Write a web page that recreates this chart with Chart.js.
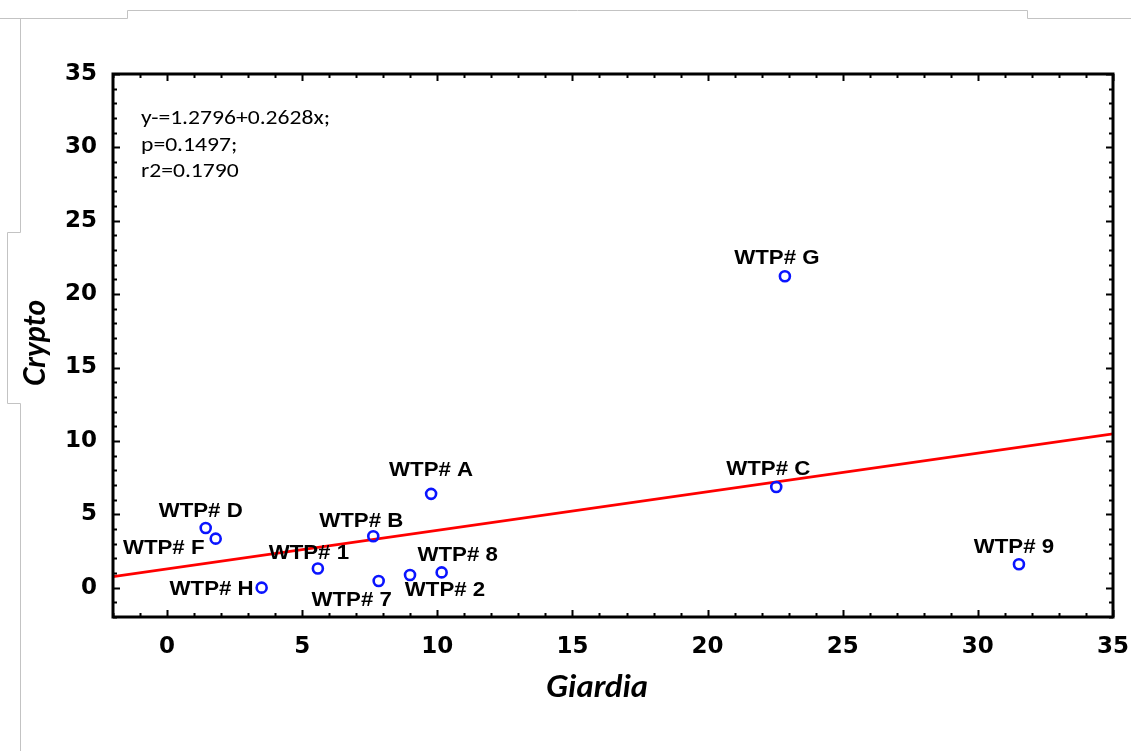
<!DOCTYPE html>
<html>
<head>
<meta charset="utf-8">
<script src="https://cdn.jsdelivr.net/npm/chart.js@4.4.1/dist/chart.umd.min.js"></script>
<style>
  html, body { margin: 0; padding: 0; background: #ffffff; }
  #wrap { position: relative; width: 1131px; height: 751px; }
  canvas { display: block; }
</style>
</head>
<body>
<div id="wrap"><canvas id="c" width="1131" height="751"></canvas></div>
<script>
// ---- data ----
const siteLabels = ['WTP# G', 'WTP# A', 'WTP# C', 'WTP# 9', 'WTP# D', 'WTP# F', 'WTP# B', 'WTP# 1', 'WTP# H', 'WTP# 7', 'WTP# 2', 'WTP# 8'];
const giardiaValues = [22.86, 9.77, 22.54, 31.52, 1.43, 1.80, 7.63, 5.58, 3.50, 7.83, 8.99, 10.16];
const cryptoValues  = [21.22, 6.39, 6.86, 1.59, 4.06, 3.34, 3.50, 1.30, 0.00, 0.45, 0.86, 1.04];
const fitLineX = [-2, 35];
const fitLineY = [0.75, 10.48];
const xTickValues = [0, 5, 10, 15, 20, 25, 30, 35];
const yTickValues = [0, 5, 10, 15, 20, 25, 30, 35];
const axisMin = -2;
const axisMax = 35;
const xTitle = 'Giardia';
const yTitle = 'Crypto';
const annotationLines = ['y-=1.2796+0.2628x;', 'p=0.1497;', 'r2=0.1790'];

// ---- label placement (pixel offsets from each point), styling only ----
const labelOffsets = [[-8, -18], [0, -24], [-8, -18], [-5, -17], [-5, -17], [-52, 10], [-12, -15], [-9, -15], [-50, 2], [-27, 19], [35, 15], [16, -17]];

const points = giardiaValues.map((x, i) => ({ x: x, y: cryptoValues[i] }));
const fitPoints = fitLineX.map((x, i) => ({ x: x, y: fitLineY[i] }));

function stretchedText(ctx, text, x, y, sx) {
  ctx.save();
  ctx.translate(x, y);
  ctx.scale(sx, 1);
  ctx.fillText(text, 0, 0);
  ctx.restore();
}

const decorPlugin = {
  id: 'decor',
  beforeDraw(chart) {
    const ctx = chart.ctx;
    ctx.save();
    ctx.fillStyle = '#ffffff';
    ctx.fillRect(0, 0, chart.width, chart.height);
    // light grey page outline
    ctx.strokeStyle = '#c3c3c3';
    ctx.lineWidth = 1;
    ctx.beginPath();
    ctx.moveTo(0, 18.5); ctx.lineTo(127.5, 18.5); ctx.lineTo(127.5, 10.5);
    ctx.lineTo(1027.5, 10.5); ctx.lineTo(1027.5, 18.5); ctx.lineTo(1131, 18.5);
    ctx.moveTo(20.5, 18.5); ctx.lineTo(20.5, 232.5); ctx.lineTo(7.5, 232.5);
    ctx.lineTo(7.5, 403.5); ctx.lineTo(20.5, 403.5); ctx.lineTo(20.5, 751);
    ctx.stroke();
    ctx.restore();
  },
  afterDatasetsDraw(chart) {
    const ctx = chart.ctx;
    const xs = chart.scales.x, ys = chart.scales.y;
    const a = chart.chartArea;
    ctx.save();
    // inward tick marks on all four sides
    ctx.strokeStyle = '#000000';
    ctx.lineWidth = 2;
    ctx.beginPath();
    for (let v = axisMin; v <= axisMax; v++) {
      const len = (v % 5 === 0) ? 7 : 4;
      const px = Math.round(xs.getPixelForValue(v)) + 0.5;
      ctx.moveTo(px, a.bottom); ctx.lineTo(px, a.bottom - len);
      ctx.moveTo(px, a.top); ctx.lineTo(px, a.top + len);
      const py = Math.round(ys.getPixelForValue(v)) + 0.5;
      ctx.moveTo(a.left, py); ctx.lineTo(a.left + len, py);
      ctx.moveTo(a.right, py); ctx.lineTo(a.right - len, py);
    }
    ctx.stroke();
    // frame
    ctx.lineWidth = 3;
    ctx.strokeRect(a.left, a.top, a.right - a.left, a.bottom - a.top);

    // point labels
    ctx.fillStyle = '#000000';
    ctx.font = 'bold 21px "Liberation Sans", Arial, sans-serif';
    ctx.textAlign = 'center';
    ctx.textBaseline = 'middle';
    const meta = chart.getDatasetMeta(0);
    meta.data.forEach((el, i) => {
      const off = labelOffsets[i];
      stretchedText(ctx, siteLabels[i], el.x + off[0], el.y + off[1], 1.06);
    });

    // regression annotation
    ctx.font = '20px Carlito, Lato, sans-serif';
    ctx.textAlign = 'left';
    ctx.textBaseline = 'alphabetic';
    const w0 = ctx.measureText(annotationLines[0]).width;
    const sx = 189 / w0;
    annotationLines.forEach((t, i) => {
      stretchedText(ctx, t, 141, 124 + i * 26.5, sx);
    });

    // axis titles
    ctx.font = 'italic bold 30px Lato, sans-serif';
    ctx.textAlign = 'center';
    stretchedText(ctx, xTitle, 597, 697, 1.1);
    ctx.save();
    ctx.translate(45, 343);
    ctx.rotate(-Math.PI / 2);
    ctx.fillText(yTitle, 0, 0);
    ctx.restore();
    ctx.restore();
  }
};

const tickFont = { family: '"DejaVu Sans", sans-serif', size: 23, weight: 'bold' };

new Chart(document.getElementById('c'), {
  type: 'scatter',
  data: {
    datasets: [
      {
        label: 'sites',
        data: points,
        showLine: false,
        pointStyle: 'circle',
        pointRadius: 5,
        pointHoverRadius: 5,
        pointBorderWidth: 2.6,
        borderColor: '#0a14ff',
        backgroundColor: 'rgba(0,0,0,0)',
        order: 1
      },
      {
        label: 'fit',
        type: 'line',
        data: fitPoints,
        borderColor: '#ff0000',
        borderWidth: 2.6,
        pointRadius: 0,
        fill: false,
        tension: 0,
        order: 2
      }
    ]
  },
  options: {
    responsive: false,
    animation: false,
    devicePixelRatio: 1,
    layout: { padding: { left: 0, top: 74, right: 18, bottom: 0 } },
    plugins: { legend: { display: false }, tooltip: { enabled: false } },
    scales: {
      x: {
        type: 'linear',
        min: axisMin,
        max: axisMax,
        grid: { display: false, drawTicks: false, tickLength: 0 },
        border: { display: false },
        afterBuildTicks: (axis) => { axis.ticks = xTickValues.map(v => ({ value: v })); },
        afterFit: (axis) => { axis.height = 134; axis.paddingLeft = 0; axis.paddingRight = 0; },
        ticks: { color: '#000000', font: tickFont, padding: 16, maxRotation: 0, autoSkip: false }
      },
      y: {
        type: 'linear',
        min: axisMin,
        max: axisMax,
        grid: { display: false, drawTicks: false, tickLength: 0 },
        border: { display: false },
        afterBuildTicks: (axis) => { axis.ticks = yTickValues.map(v => ({ value: v })); },
        afterFit: (axis) => { axis.width = 113; axis.paddingTop = 0; axis.paddingBottom = 0; },
        ticks: { color: '#000000', font: tickFont, padding: 16, autoSkip: false }
      }
    }
  },
  plugins: [decorPlugin]
});
</script>
</body>
</html>
